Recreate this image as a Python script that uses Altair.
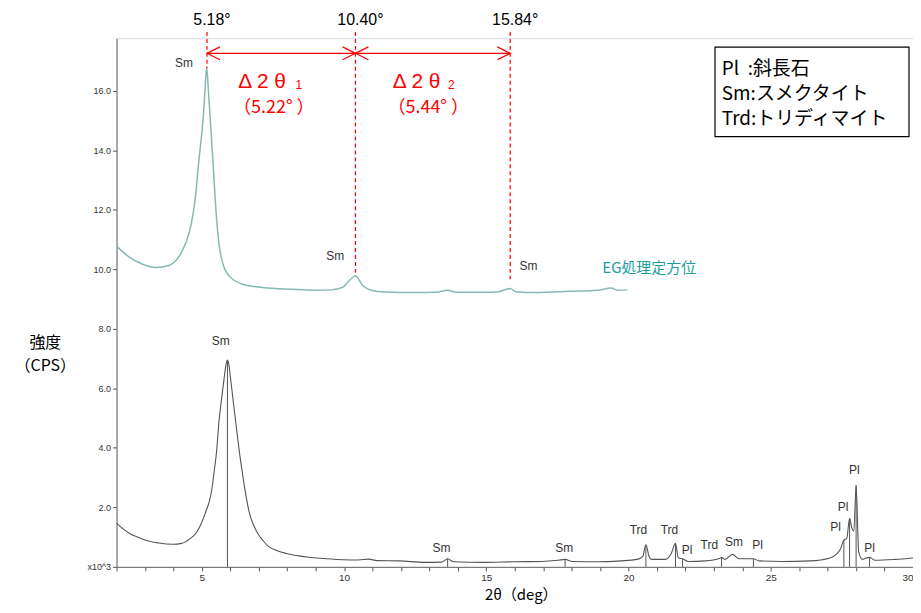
import altair as alt
import pandas as pd

# ---- untreated (oriented) pattern, lower trace ----
raw_x = [2.0, 2.2, 2.46, 2.8, 3.0, 3.49, 3.99, 4.29, 4.59, 4.75, 4.9, 5.02, 5.14, 5.26,
         5.35, 5.43, 5.52, 5.6, 5.7, 5.78, 5.85, 5.9, 5.95, 6.01, 6.1, 6.19, 6.3, 6.42,
         6.54, 6.66, 6.82, 7.0, 7.17, 7.35, 7.6, 7.97, 8.4, 8.77, 9.3, 9.96, 10.5, 10.86,
         11.16, 11.95, 12.85, 13.44, 13.64, 13.84, 14.94, 15.93, 16.93, 17.52, 17.77,
         18.02, 18.92, 19.71, 20.31, 20.5, 20.61, 20.72, 20.81, 21.3, 21.5, 21.65, 21.75,
         21.9, 22.1, 22.7, 23.2, 23.27, 23.39, 23.65, 23.89, 24.39, 24.59, 25.38, 26.38,
         27.08, 27.3, 27.45, 27.57, 27.67, 27.77, 27.85, 27.92, 28.0, 28.09, 28.22, 28.47,
         28.67, 29.37, 30.0]
raw_y = [1.47, 1.3, 1.12, 0.98, 0.9, 0.8, 0.76, 0.79, 0.95, 1.08, 1.3, 1.55, 1.86, 2.19,
         2.6, 3.19, 3.9, 4.87, 5.7, 6.32, 6.8, 6.95, 6.8, 6.32, 5.6, 4.87, 4.0, 3.19,
         2.45, 1.86, 1.4, 1.07, 0.86, 0.68, 0.56, 0.45, 0.37, 0.32, 0.28, 0.24, 0.23, 0.26,
         0.21, 0.2, 0.15, 0.16, 0.27, 0.17, 0.15, 0.17, 0.18, 0.22, 0.25,
         0.18, 0.17, 0.2, 0.25, 0.35, 0.74, 0.35, 0.25, 0.25, 0.45, 0.79, 0.3,
         0.27, 0.18, 0.2, 0.28, 0.32, 0.25, 0.42, 0.27, 0.27, 0.2, 0.18, 0.2,
         0.3, 0.42, 0.6, 0.9, 0.95, 1.63, 1.3, 1.2, 2.74, 0.5, 0.25, 0.32,
         0.22, 0.25, 0.3]

# ---- EG treated (oriented) pattern, upper trace ----
eg_x = [2.0, 2.46, 2.92, 3.39, 3.86, 4.21, 4.44, 4.61, 4.75, 4.9, 5.05, 5.11, 5.17, 5.23,
        5.29, 5.4, 5.51, 5.67, 5.96, 6.43, 7.13, 8.18, 8.97, 9.56, 9.96, 10.16, 10.4,
        10.66, 10.96, 11.45, 12.45, 13.24, 13.64, 13.94, 14.94, 15.43, 15.84, 16.03,
        16.73, 17.92, 18.92, 19.4, 19.61, 19.96]
eg_y = [10.78, 10.4, 10.17, 10.06, 10.14, 10.45, 10.9, 11.45, 12.24, 13.7, 15.14, 16.0,
        16.8, 16.0, 15.14, 13.46, 11.79, 10.45, 9.78, 9.5, 9.39, 9.33, 9.3, 9.31, 9.4, 9.6,
        9.78, 9.45, 9.3, 9.24, 9.22, 9.23, 9.3, 9.23, 9.23, 9.25, 9.36, 9.25,
        9.22, 9.26, 9.3, 9.37, 9.3, 9.31]

# peak marker lines on the lower trace
peak_x = [5.9, 13.64, 17.77, 20.61, 21.65, 21.9, 23.27, 24.39, 27.57, 27.77, 28.0, 28.47]
peak_y = [6.95, 0.27, 0.25, 0.74, 0.79, 0.27, 0.32, 0.27, 0.9, 1.63, 2.74, 0.32]

# mineral labels
lab_text = ["Sm", "Sm", "Sm",
            "Sm", "Sm", "Sm", "Trd", "Trd", "Pl", "Trd", "Sm", "Pl", "Pl", "Pl", "Pl", "Pl"]
lab_x = [4.37, 9.69, 16.48,
         5.66, 13.42, 17.74, 20.35, 21.44, 22.06, 22.84, 23.71, 24.54, 27.28, 27.54, 27.94, 28.47]
lab_y = [16.93, 10.45, 10.11,
         7.6, 0.63, 0.63, 1.24, 1.24, 0.55, 0.74, 0.83, 0.74, 1.35, 2.02, 3.25, 0.63]

# d-spacing annotation (EG peaks)
mark_pos = [5.18, 10.40, 15.84]
mark_text = ["5.18°", "10.40°", "15.84°"]
mark_bottom = [16.77, 9.78, 9.67]
arrow_from = [5.18, 10.40]
arrow_to = [10.40, 15.84]
delta_text = ["Δ 2 θ", "Δ 2 θ"]
delta_x = [7.12, 12.55]
sub_text = ["1", "2"]
sub_x = [8.41, 13.77]
diff_text = ["（5.22° ）", "（5.44° ）"]
diff_x = [7.53, 12.96]

legend_lines = ["Pl\u00a0\u00a0:斜長石", "Sm:スメクタイト", "Trd:トリディマイト"]
legend_y = [16.53, 15.69, 14.86]

RED = "#ff0000"
TEAL = "#1a9e9e"
LAT = "Liberation Sans"
JP = "Noto Sans CJK JP"

xs = alt.Scale(domain=[2, 30], nice=False, zero=False)
ys = alt.Scale(domain=[0, 17.77], nice=False, zero=False)

xaxis = alt.Axis(
    values=list(range(2, 31)),
    labelExpr="datum.value % 5 == 0 && datum.value > 2 ? datum.value : ''",
    grid=False, tickSize=4, tickColor="#555", domainColor="#666",
    labelFont=LAT, labelFontSize=10, labelColor="#333", labelPadding=2,
    title="2θ（deg）", titleFont=JP, titleFontSize=15, titleFontWeight="normal",
    titleColor="#000", titleAlign="center", titleBaseline="alphabetic",
    titleX=406, titleY=33,
)
yaxis = alt.Axis(
    values=[0, 2, 4, 6, 8, 10, 12, 14, 16],
    labelExpr="datum.value == 0 ? 'x10^3' : format(datum.value, '.1f')",
    grid=False, tickSize=4, tickColor="#555", domainColor="#666",
    labelFont=LAT, labelFontSize=9, labelColor="#333", labelPadding=2,
    title=["強度", "（CPS）"], titleFont=JP, titleFontSize=16, titleFontWeight="normal",
    titleColor="#000", titleAngle=0, titleAlign="center", titleBaseline="alphabetic",
    titleX=-72, titleY=311, titleLineHeight=23,
)


def X(f="x"):
    return alt.X(f"{f}:Q", scale=xs, axis=xaxis)


def Y(f="y"):
    return alt.Y(f"{f}:Q", scale=ys, axis=yaxis)


raw_df = pd.DataFrame({"x": raw_x, "y": raw_y})
eg_df = pd.DataFrame({"x": eg_x, "y": eg_y})
peak_df = pd.DataFrame({"x": peak_x, "y": peak_y, "y0": [0.0] * len(peak_x)})
lab_df = pd.DataFrame({"x": lab_x, "y": lab_y, "t": lab_text})
mark_df = pd.DataFrame({"x": mark_pos, "y": [17.98] * 3, "y0": mark_bottom, "t": mark_text,
                        "ylab": [18.37] * 3})
arrow_df = pd.DataFrame({"x": arrow_from, "x2": arrow_to, "y": [17.26] * 2})
delta_df = pd.DataFrame({"x": delta_x, "y": [16.3] * 2, "t": delta_text})
sub_df = pd.DataFrame({"x": sub_x, "y": [16.2] * 2, "t": sub_text})
diff_df = pd.DataFrame({"x": diff_x, "y": [15.42] * 2, "t": diff_text})
box_df = pd.DataFrame({"x": [23.04], "x2": [29.86], "y": [17.47], "y2": [14.46]})
legend_df = pd.DataFrame({"x": [23.28] * 3, "y": legend_y, "t": legend_lines})
eg_lab_df = pd.DataFrame({"x": [19.08], "y": [10.04], "t": ["EG処理定方位"]})

eg_line = alt.Chart(eg_df).mark_line(color="#86b8b4", strokeWidth=1.5,
                                     interpolate="monotone").encode(x=X(), y=Y())
raw_line = alt.Chart(raw_df).mark_line(color="#555555", strokeWidth=1.1,
                                       interpolate="monotone").encode(x=X(), y=Y())
peaks = alt.Chart(peak_df).mark_rule(color="#555555", strokeWidth=1).encode(
    x=X(), y=Y(), y2=alt.Y2("y0:Q"))
labels = alt.Chart(lab_df).mark_text(font=LAT, fontSize=12, color="#333333",
                                     baseline="middle", align="center").encode(
    x=X(), y=Y(), text="t:N")

dash = alt.Chart(mark_df).mark_rule(color=RED, strokeDash=[4, 3], strokeWidth=1.2).encode(
    x=X(), y=Y(), y2=alt.Y2("y0:Q"))
mark_lab = alt.Chart(mark_df).mark_text(font=LAT, fontSize=16, color="#000",
                                        baseline="middle", align="center", dx=5).encode(
    x=X(), y=alt.Y("ylab:Q", scale=ys, axis=yaxis), text="t:N")
shafts = alt.Chart(arrow_df).mark_rule(color=RED, strokeWidth=1.2).encode(
    x=X(), x2=alt.X2("x2:Q"), y=Y())
head_l = alt.Chart(arrow_df).mark_point(
    shape="M 1 -0.5 L 0 0 L 1 0.5", filled=False, color=RED, size=676, strokeWidth=1.2,
    opacity=1).encode(x=X(), y=Y())
head_r = alt.Chart(arrow_df).mark_point(
    shape="M -1 -0.5 L 0 0 L -1 0.5", filled=False, color=RED, size=676, strokeWidth=1.2,
    opacity=1).encode(x=alt.X("x2:Q", scale=xs, axis=xaxis), y=Y())
delta = alt.Chart(delta_df).mark_text(font=LAT, fontSize=21, color=RED,
                                      baseline="middle", align="center").encode(
    x=X(), y=Y(), text="t:N")
sub = alt.Chart(sub_df).mark_text(font=LAT, fontSize=12, color=RED,
                                  baseline="middle", align="center").encode(
    x=X(), y=Y(), text="t:N")
diff = alt.Chart(diff_df).mark_text(font=JP, fontSize=18, color=RED,
                                    baseline="middle", align="center").encode(
    x=X(), y=Y(), text="t:N")

box = alt.Chart(box_df).mark_rect(fill="white", stroke="#000", strokeWidth=1.2).encode(
    x=X(), x2=alt.X2("x2:Q"), y=Y(), y2=alt.Y2("y2:Q"))
legend_txt = alt.Chart(legend_df).mark_text(font=JP, fontSize=19, color="#000",
                                            baseline="alphabetic", align="left").encode(
    x=X(), y=Y(), text="t:N")
eg_lab = alt.Chart(eg_lab_df).mark_text(font=JP, fontSize=15, color=TEAL,
                                        baseline="middle", align="left").encode(
    x=X(), y=Y(), text="t:N")

chart = alt.layer(
    eg_line, raw_line, peaks, labels, dash, mark_lab, shafts, head_l, head_r,
    delta, sub, diff, box, legend_txt, eg_lab,
).properties(
    width=800, height=531,
    autosize=alt.AutoSizeParams(type="none"),
    padding={"left": 109, "top": 29, "right": 0, "bottom": 37},
).configure_view(stroke="#999999", strokeWidth=1.2).configure(background="white")

chart.save("out.html", embed_options={"renderer": "svg", "actions": False})
